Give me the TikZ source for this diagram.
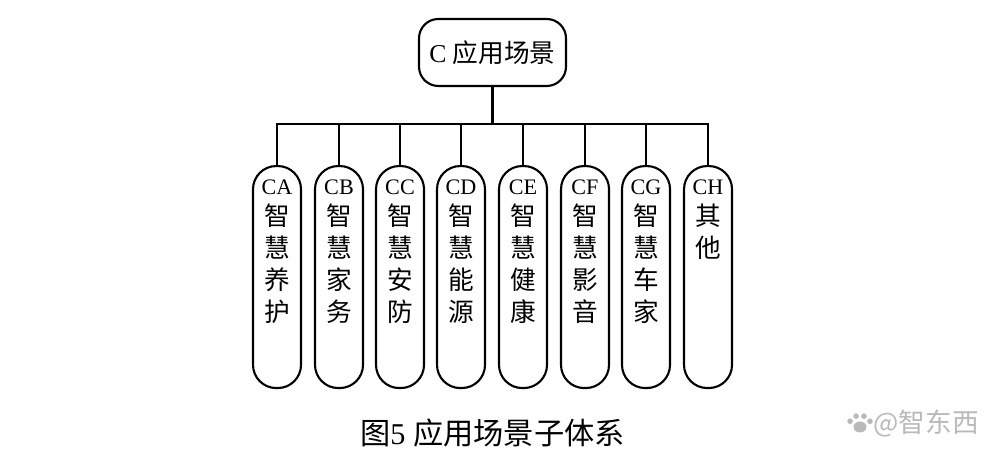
\documentclass[tikz,border=0pt]{standalone}
\usepackage{fontspec}
\usepackage{xcolor}
\setmainfont{Liberation Serif}
\newfontfamily\cjkfont{Noto Sans CJK SC}
\newcommand{\zh}[1]{{\cjkfont #1}}
\usetikzlibrary{positioning,calc}
\tikzset{
    rootbox/.style={draw, line width=0.6pt, rounded corners=5.5pt, minimum width=1.47cm, minimum height=0.67cm, inner sep=0pt},
    leafbox/.style={draw, line width=0.6pt, rounded corners=6.6pt, minimum width=0.48cm, minimum height=2.22cm, inner sep=0pt, anchor=north},
    leaftext/.style={anchor=north, inner sep=0pt, align=center, font=\fontsize{7.3}{9.1}\selectfont\cjkfont},
    wire/.style={line width=0.6pt}
}
\begin{document}
\begin{tikzpicture}
    \useasboundingbox (0,0) rectangle (10,4.6);
    % Root
    \node [rootbox, font=\fontsize{7.3}{9}\selectfont] (root) at (4.925, 4.075) {C \zh{应用场景}};
    \coordinate (bus) at (4.925, 3.36);
    \draw [line width=0.85pt] (root.south) -- (bus);
    % Leaves
    \foreach \name/\x/\code/\words in {
        ca/2.77/CA/{智\\慧\\养\\护},
        cb/3.39/CB/{智\\慧\\家\\务},
        cc/4.00/CC/{智\\慧\\安\\防},
        cd/4.61/CD/{智\\慧\\能\\源},
        ce/5.23/CE/{智\\慧\\健\\康},
        cf/5.85/CF/{智\\慧\\影\\音},
        cg/6.46/CG/{智\\慧\\车\\家},
        ch/7.08/CH/{其\\他}} {
        \node [leafbox] (\name) at (\x, 2.95) {};
        \node [leaftext, below=0.145cm of \name.north] (\name text) {{\rmfamily\fontsize{6.3}{7}\selectfont\code}\\[-0.4pt]\words};
        \draw [wire] (\name.north) -- (\name.north |- bus);
    }
    % Bus
    \draw [wire, line cap=rect] (ca.north |- bus) -- (ch.north |- bus);
    % Caption
    \node [inner sep=0pt, font=\fontsize{8.6}{10}\selectfont] (caption) at (4.925, 0.27) {\zh{图}5 \zh{应用场景子体系}};
    % Watermark
    \node [inner sep=0pt, text=gray!55, anchor=west, font=\fontsize{7.6}{9}\selectfont\cjkfont] (mark) at (8.73, 0.36) {@智东西};
    \fill [gray!55] (8.60, 0.33) ellipse (0.065 and 0.055);
    \foreach \a in {30, 70, 110, 150} \fill [gray!55] ($(8.60, 0.33)+(\a:0.115)$) circle (0.028);
\end{tikzpicture}
\end{document}
